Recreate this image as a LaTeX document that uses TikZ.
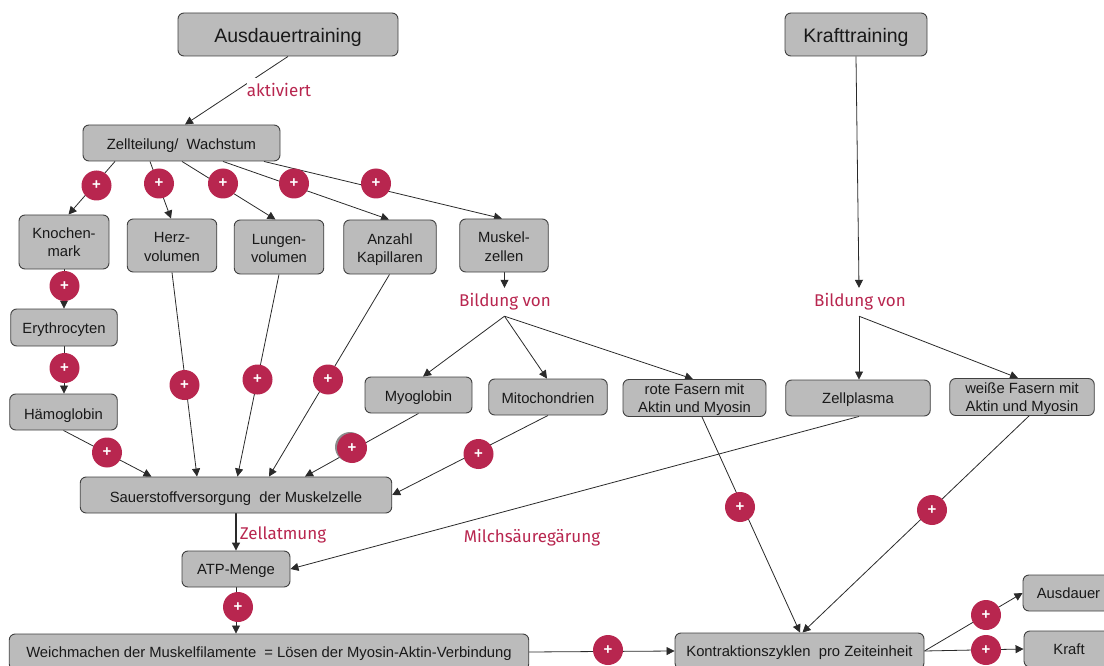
\documentclass[tikz,border=0pt]{standalone}
\usepackage{fontspec}
\setmainfont{Liberation Sans}
\newfontfamily\redfont{Fira Sans}
\usetikzlibrary{arrows.meta,backgrounds}
\definecolor{boxfill}{HTML}{BBBBBB}
\definecolor{boxline}{HTML}{404040}
\definecolor{plusred}{HTML}{B8264F}
\definecolor{conn}{HTML}{2A2A2A}
\newcommand\lineup[1]{\rule{0pt}{#1pt}}
\tikzset{
  x=1pt,y=-1pt,
  box/.style={draw=boxline,fill=boxfill,rounded corners=6,line width=0.9,inner sep=0,align=center,
    font=\fontsize{14.8}{18}\selectfont,text=black!90,
    execute at begin node={\rule[-4pt]{0pt}{19pt}},
    execute at end node={\rule[-4pt]{0pt}{19pt}}},
  dn/.style={execute at begin node={\rule{0pt}{#1pt}}},
  bigbox/.style={box,dn=21,font=\fontsize{19.5}{22}\selectfont},
  plus/.style={circle,fill=plusred,minimum size=30,inner sep=0,text=white,font=\bfseries\fontsize{15}{15}\selectfont},
  rel/.style={text=plusred,inner sep=0,font=\redfont\fontsize{17}{18}\selectfont},
  arrow/.style={draw=conn,line width=0.8,-{Triangle[length=8,width=8]}},
}
\begin{document}
\begin{tikzpicture}
\useasboundingbox (0,0) rectangle (1104,666);
\clip (0,0) rectangle (1104,666);
% boxes
\node[bigbox,minimum width=220,minimum height=43] (aus) at (288,34.5) {Ausdauertraining};
\node[bigbox,minimum width=142,minimum height=43] (kt) at (856,34.5) {Krafttraining};
\node[box,dn=17,minimum width=197,minimum height=36] (z) at (181.5,143) {Zellteilung/\ \ Wachstum};
\node[box,minimum width=90,minimum height=54] (kn) at (64,242) {\lineup{15}Knochen-\\mark};
\node[box,minimum width=89.5,minimum height=53] (he) at (172,245.5) {\lineup{17}Herz-\\volumen};
\node[box,minimum width=89.5,minimum height=54] (lu) at (279,247) {\lineup{17}Lungen-\\volumen};
\node[box,minimum width=92.5,minimum height=54] (an) at (390,247) {\lineup{17}Anzahl\\Kapillaren};
\node[box,minimum width=88.5,minimum height=53] (mu) at (504,245.5) {\lineup{17}Muskel-\\zellen};
\node[box,minimum width=106.5,minimum height=37] (er) at (64,327.5) {Erythrocyten};
\node[box,dn=18,minimum width=107.5,minimum height=36] (ha) at (63.5,412) {Hämoglobin};
\node[box,dn=17,minimum width=107,minimum height=36] (my) at (418.5,395) {Myoglobin};
\node[box,dn=17,minimum width=118.5,minimum height=36] (mi) at (548,397) {Mitochondrien};
\node[box,minimum width=143,minimum height=36] (ro) at (694.5,398) {\lineup{15}rote Fasern mit\\Aktin und Myosin};
\node[box,minimum width=144.5,minimum height=36] (ze) at (858,398) {Zellplasma};
\node[box,minimum width=144.5,minimum height=36] (we) at (1022,397) {\lineup{15}weiße Fasern mit\\Aktin und Myosin};
\node[box,dn=19,minimum width=311.5,minimum height=36] (sa) at (236,495) {Sauerstoffversorgung\ \ der Muskelzelle};
\node[box,minimum width=108,minimum height=36] (at) at (236,569) {ATP-Menge};
\node[box,minimum width=519.5,minimum height=36] (wm) at (269,652) {Weichmachen der Muskelfilamente\ \ = Lösen der Myosin-Aktin-Verbindung};
\node[box,minimum width=249,minimum height=36] (ko) at (799.5,651) {Kontraktionszyklen\ \ pro Zeiteinheit};
\node[box,minimum width=91,minimum height=36] (ad) at (1068.5,593) {Ausdauer};
\node[box,minimum width=90,minimum height=36] (kr) at (1069,649) {Kraft};
% relation labels
\node[rel,minimum height=28] (bv1) at (505,302) {Bildung von};
\node[rel,minimum height=28] (bv2) at (860,302) {Bildung von};
% connectors
\begin{scope}[on background layer]
\draw[arrow] (aus.south) -- ([xshift=3.5]z.north);
\draw[arrow] ([xshift=-66.5]z.south) -- ([xshift=4.5]kn.north);
\draw[arrow] ([xshift=-31.5]z.south) -- ([xshift=-1]he.north);
\draw[arrow] ([xshift=0.5]z.south) -- ([xshift=-3.5]lu.north);
\draw[arrow] ([xshift=41.5]z.south) -- ([xshift=-1]an.north);
\draw[arrow] ([xshift=82.5]z.south) -- ([xshift=-2]mu.north);
\draw[arrow] (kn.south) -- (er.north);
\draw[arrow] (er.south) -- ([xshift=0.5]ha.north);
\draw[arrow] (ha.south) -- ([xshift=-84.5]sa.north);
\draw[arrow] (he.south) -- ([xshift=-39]sa.north);
\draw[arrow] (lu.south) -- ([xshift=1.5]sa.north);
\draw[arrow] ([xshift=-0.5]an.south) -- ([xshift=33]sa.north);
\draw[arrow] (my.south) -- ([xshift=69]sa.north);
\draw[arrow] (mi.south) -- (sa.east);
\draw[arrow] ([xshift=0.5]mu.south) -- ([xshift=-0.5]bv1.north);
\draw[arrow] ([xshift=-0.5]bv1.south) -- ([xshift=4.5]my.north);
\draw[arrow] ([xshift=-0.5]bv1.south) -- ([xshift=-1]mi.north);
\draw[arrow] ([xshift=-0.5]bv1.south) -- ([xshift=-1.5]ro.north);
\draw[arrow] (kt.south) -- ([xshift=-1]bv2.north);
\draw[arrow] ([xshift=-1]bv2.south) -- ([xshift=1]ze.north);
\draw[arrow] ([xshift=-1]bv2.south) -- ([xshift=-4]we.north);
\draw[arrow] ([xshift=1]ze.south) -- (at.east);
\draw[arrow] ([xshift=7.5]ro.south) -- ([xshift=0.5]ko.north);
\draw[arrow] ([xshift=7]we.south) -- ([xshift=3]ko.north);
\draw[arrow,line width=1.1] (sa.south) -- (at.north);
\draw[arrow] (at.south) -- (wm.north -| at.south);
\draw[arrow] (wm.east) -- (ko.west);
\draw[arrow] (ko.east) -- (ad.west);
\draw[arrow] (ko.east) -- (kr.west);
\end{scope}
% labels that interrupt lines
\node[rel,fill=white,minimum height=24] (l1) at (279,90) {aktiviert};
\node[rel] (l2) at (283,535) {Zellatmung};
\node[rel] (l3) at (532,538) {Milchsäuregärung};
% plus circles
\node[circle,fill=black!45,minimum size=30,inner sep=0] (shadow) at (350,447) {};
\foreach \n/\x/\y in {p1/96.5/185.5,p2/159/183.5,p3/223/183.5,p4/294/183.5,p5/376/183.5,
  p6/64.5/286,p7/64.5/368,p8/107/452.5,p9/184.5/385,p10/257.5/379.5,p11/328/379.5,
  p12/352/448,p13/478.5/454,p14/740/507,p15/932/510,p16/238/607,p17/608/650,p18/986/615,p19/986/650}
  \node[plus] (\n) at (\x,\y) {+};
\end{tikzpicture}
\end{document}
